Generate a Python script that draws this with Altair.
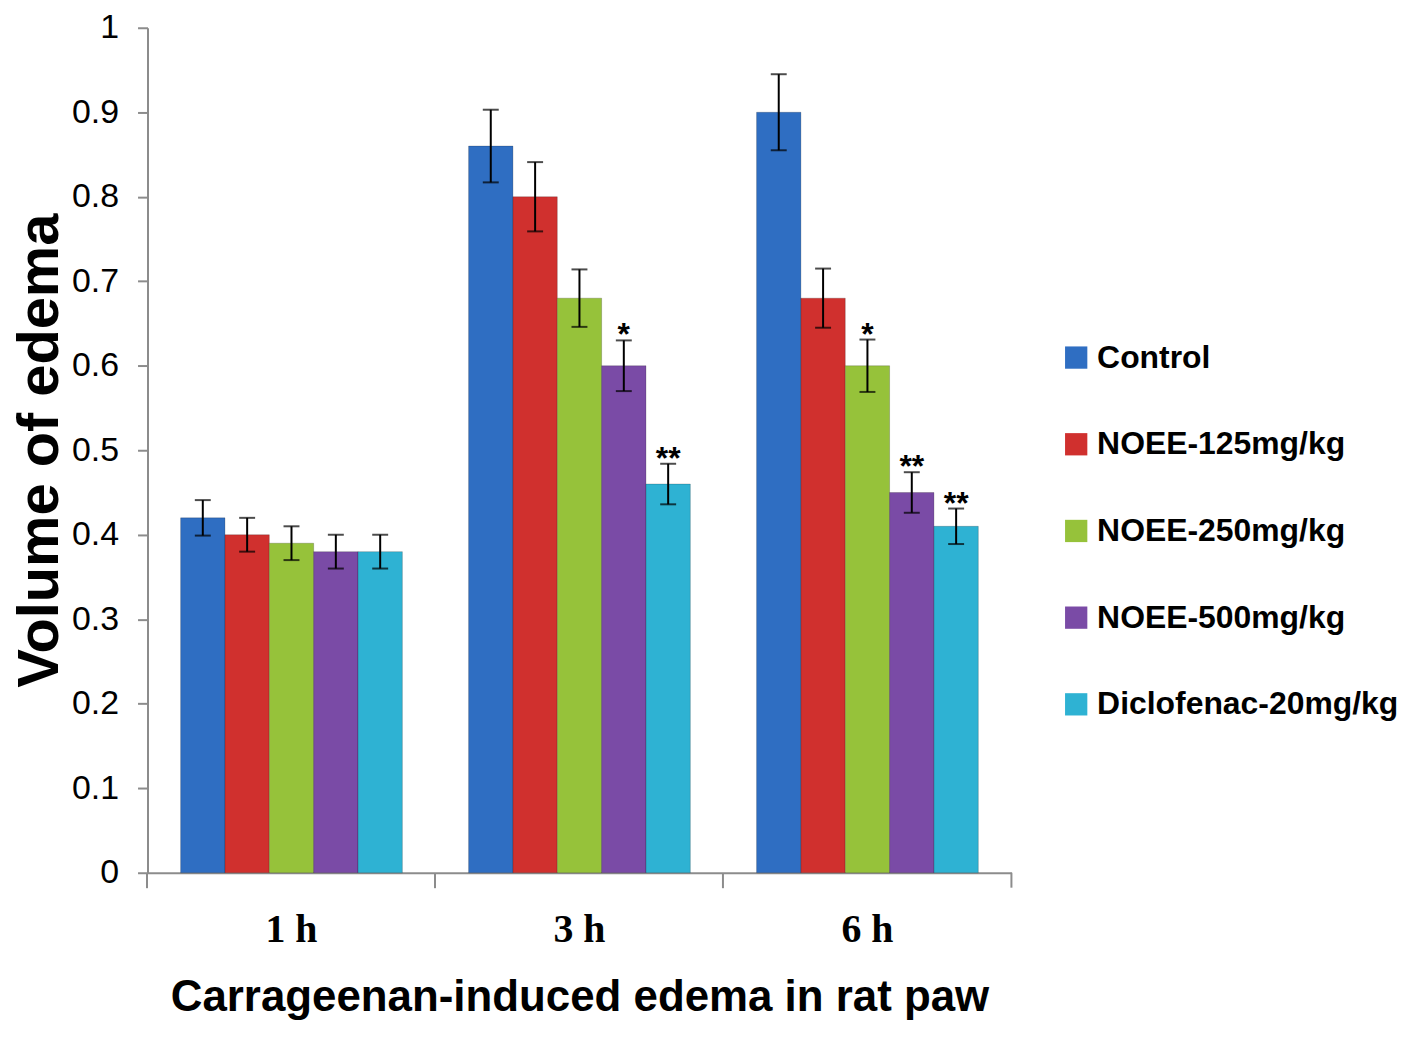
import altair as alt
import pandas as pd

times = ["1 h", "3 h", "6 h"]
groups = ["Control", "NOEE-125mg/kg", "NOEE-250mg/kg", "NOEE-500mg/kg", "Diclofenac-20mg/kg"]
colors = ["#2F6EC2", "#D0302E", "#96C23A", "#7A4BA6", "#2EB2D3"]

means_1h = [0.42, 0.40, 0.39, 0.38, 0.38]
means_3h = [0.86, 0.80, 0.68, 0.60, 0.46]
means_6h = [0.90, 0.68, 0.60, 0.45, 0.41]
err_1h = [0.021, 0.02, 0.02, 0.02, 0.02]
err_3h = [0.043, 0.041, 0.034, 0.03, 0.024]
err_6h = [0.045, 0.035, 0.031, 0.024, 0.021]
sig_1h = ["", "", "", "", ""]
sig_3h = ["", "", "", "*", "**"]
sig_6h = ["", "", "*", "**", "**"]

rows = []
for t, ms, es, ss in zip(times, [means_1h, means_3h, means_6h],
                         [err_1h, err_3h, err_6h], [sig_1h, sig_3h, sig_6h]):
    for g, m, e, s in zip(groups, ms, es, ss):
        rows.append({"time": t, "group": g, "mean": m, "lo": m - e, "hi": m + e, "sig": s})
df = pd.DataFrame(rows)

W, H = 867, 848
SANS = "Liberation Sans"

x = alt.X("time:N", sort=times, title="Carrageenan-induced edema in rat paw",
          scale=alt.Scale(paddingInner=0.23, paddingOuter=0.115),
          axis=alt.Axis(labelAngle=0, labelFont="Liberation Serif", labelFontSize=40,
                        labelFontWeight="bold", labelColor="#000", labelPadding=22,
                        tickSize=15, tickColor="#8c8c8c", tickWidth=2, bandPosition=-0.15,
                        domainColor="#8c8c8c", domainWidth=2,
                        titleFont=SANS, titleFontSize=44, titleFontWeight="bold",
                        titleColor="#000", titlePadding=26))
xo = alt.XOffset("group:N", sort=groups, scale=alt.Scale(paddingInner=0, paddingOuter=0))

bars = alt.Chart(df).mark_bar(strokeWidth=1, stroke="#00000033").encode(
    x=x, xOffset=xo,
    y=alt.Y("mean:Q", title="Volume of edema",
            scale=alt.Scale(domain=[0, 1], nice=False),
            axis=alt.Axis(values=[0, 0.1, 0.2, 0.3, 0.4, 0.5, 0.6, 0.7, 0.8, 0.9, 1],
                          format=".1~f", grid=False, labelFont=SANS, labelFontSize=34,
                          labelColor="#000", labelPadding=19, tickSize=10,
                          tickColor="#8c8c8c", tickWidth=2, domainColor="#8c8c8c",
                          domainWidth=2, titleFont=SANS, titleFontSize=58,
                          titleFontWeight="bold", titleColor="#000", titlePadding=2)),
    color=alt.Color("group:N", sort=groups, scale=alt.Scale(domain=groups, range=colors),
                    legend=alt.Legend(title=None, orient="none", legendX=916, legendY=315,
                                      padding=0, symbolType="square", symbolSize=500,
                                      symbolStrokeWidth=0, labelFont=SANS,
                                      labelFontSize=32, labelFontWeight="bold",
                                      labelColor="#000", rowPadding=55, labelOffset=5,
                                      labelLimit=400)),
)

ebar = alt.Chart(df).mark_rule(color="#000", strokeWidth=2).encode(
    x=alt.X("time:N", sort=times), xOffset=xo, y="lo:Q", y2="hi:Q")
caps_hi = alt.Chart(df).mark_tick(color="#000", size=16, thickness=2).encode(
    x=alt.X("time:N", sort=times), xOffset=xo, y="hi:Q")
caps_lo = alt.Chart(df).mark_tick(color="#000", size=16, thickness=2).encode(
    x=alt.X("time:N", sort=times), xOffset=xo, y="lo:Q")
stars = alt.Chart(df).mark_text(font=SANS, fontSize=32, fontWeight="bold",
                                baseline="alphabetic", dy=5, color="#000").encode(
    x=alt.X("time:N", sort=times), xOffset=xo, y="hi:Q", text="sig:N")
end_tick = alt.Chart(df.head(1)).mark_rule(color="#8c8c8c", strokeWidth=2).encode(
    x=alt.value(W), y=alt.value(H), y2=alt.value(H + 15))

chart = alt.layer(bars, ebar, caps_hi, caps_lo, stars, end_tick).properties(
    width=W, height=H, background="white",
    autosize=alt.AutoSizeParams(type="none"),
    padding={"left": 140, "top": 18, "right": 400, "bottom": 156},
).configure_view(stroke=None)

chart.save("out.html", embed_options={"renderer": "svg", "actions": False})
